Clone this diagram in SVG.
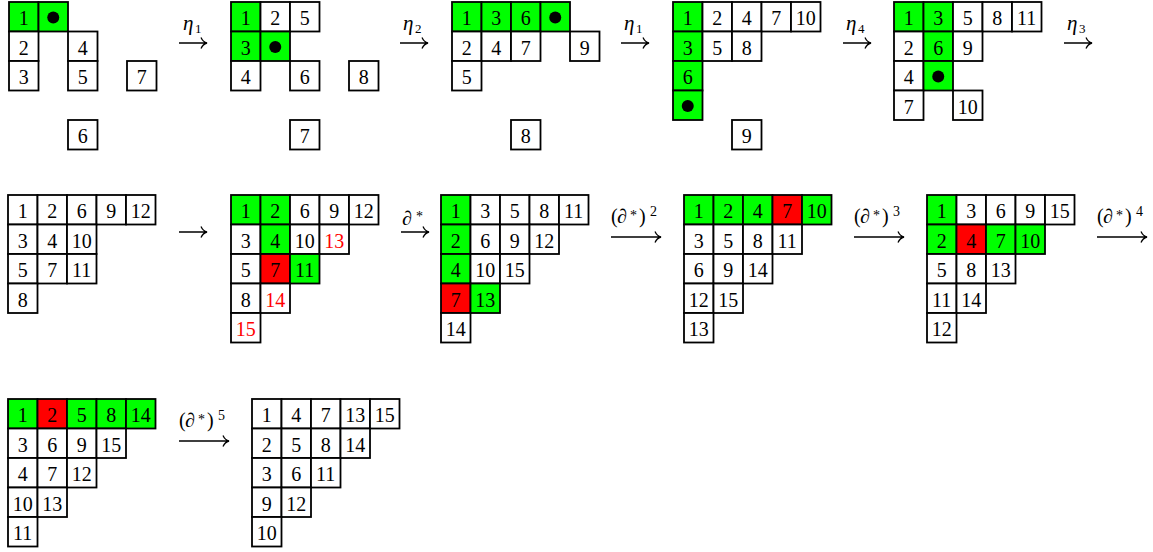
<svg xmlns="http://www.w3.org/2000/svg" width="1153" height="552" viewBox="0 0 1153 552">
<style>
rect{stroke:#000;stroke-width:1.8;width:29.5px;height:29.5px}
.c{fill:#fff}
.g{fill:#00ff00}
.r{fill:#ff0000}
text{font-family:"Liberation Serif",serif;font-size:20px;text-anchor:middle;fill:#000}
.rt{fill:#ff0000}
.lb{text-anchor:start;font-size:20px}
.eta{font-style:italic;font-size:21px}
.sub{font-size:13px}
.sup{font-size:14px}
.ar{stroke:#000;stroke-width:1.3;fill:none}
</style>
<rect x="0" y="0" width="1153" height="552" style="fill:#fff;stroke:none;width:1153px;height:552px"/>
<!-- T1 -->
<g id="t1" transform="translate(9,2)">
<rect class="g" x="0" y="0"/><text x="14.75" y="23">1</text>
<rect class="g" x="29.5" y="0"/><circle cx="44.25" cy="15.5" r="6"/>
<rect class="c" x="0" y="29.5"/><text x="14.75" y="52.5">2</text>
<rect class="c" x="59" y="29.5"/><text x="73.75" y="52.5">4</text>
<rect class="c" x="0" y="59"/><text x="14.75" y="82">3</text>
<rect class="c" x="59" y="59"/><text x="73.75" y="82">5</text>
<rect class="c" x="118" y="59"/><text x="132.75" y="82">7</text>
<rect class="c" x="59" y="118"/><text x="73.75" y="141">6</text>
</g>
<!-- T2 -->
<g id="t2" transform="translate(231,2)">
<rect class="g" x="0" y="0"/><text x="14.75" y="23">1</text>
<rect class="c" x="29.5" y="0"/><text x="44.25" y="23">2</text>
<rect class="c" x="59" y="0"/><text x="73.75" y="23">5</text>
<rect class="g" x="0" y="29.5"/><text x="14.75" y="52.5">3</text>
<rect class="g" x="29.5" y="29.5"/><circle cx="44.25" cy="45" r="6"/>
<rect class="c" x="0" y="59"/><text x="14.75" y="82">4</text>
<rect class="c" x="59" y="59"/><text x="73.75" y="82">6</text>
<rect class="c" x="118" y="59"/><text x="132.75" y="82">8</text>
<rect class="c" x="59" y="118"/><text x="73.75" y="141">7</text>
</g>
<!-- T3 -->
<g id="t3" transform="translate(452,2)">
<rect class="g" x="0" y="0"/><text x="14.75" y="23">1</text>
<rect class="g" x="29.5" y="0"/><text x="44.25" y="23">3</text>
<rect class="g" x="59" y="0"/><text x="73.75" y="23">6</text>
<rect class="g" x="88.5" y="0"/><circle cx="103.25" cy="15.5" r="6"/>
<rect class="c" x="0" y="29.5"/><text x="14.75" y="52.5">2</text>
<rect class="c" x="29.5" y="29.5"/><text x="44.25" y="52.5">4</text>
<rect class="c" x="59" y="29.5"/><text x="73.75" y="52.5">7</text>
<rect class="c" x="118" y="29.5"/><text x="132.75" y="52.5">9</text>
<rect class="c" x="0" y="59"/><text x="14.75" y="82">5</text>
<rect class="c" x="59" y="118"/><text x="73.75" y="141">8</text>
</g>
<!-- T4 -->
<g id="t4" transform="translate(673,2)">
<rect class="g" x="0" y="0"/><text x="14.75" y="23">1</text>
<rect class="c" x="29.5" y="0"/><text x="44.25" y="23">2</text>
<rect class="c" x="59" y="0"/><text x="73.75" y="23">4</text>
<rect class="c" x="88.5" y="0"/><text x="103.25" y="23">7</text>
<rect class="c" x="118" y="0"/><text x="132.75" y="23">10</text>
<rect class="g" x="0" y="29.5"/><text x="14.75" y="52.5">3</text>
<rect class="c" x="29.5" y="29.5"/><text x="44.25" y="52.5">5</text>
<rect class="c" x="59" y="29.5"/><text x="73.75" y="52.5">8</text>
<rect class="g" x="0" y="59"/><text x="14.75" y="82">6</text>
<rect class="g" x="0" y="88.5"/><circle cx="14.75" cy="104" r="6"/>
<rect class="c" x="59" y="118"/><text x="73.75" y="141">9</text>
</g>
<!-- T5 -->
<g id="t5" transform="translate(894,2)">
<rect class="g" x="0" y="0"/><text x="14.75" y="23">1</text>
<rect class="g" x="29.5" y="0"/><text x="44.25" y="23">3</text>
<rect class="c" x="59" y="0"/><text x="73.75" y="23">5</text>
<rect class="c" x="88.5" y="0"/><text x="103.25" y="23">8</text>
<rect class="c" x="118" y="0"/><text x="132.75" y="23">11</text>
<rect class="c" x="0" y="29.5"/><text x="14.75" y="52.5">2</text>
<rect class="g" x="29.5" y="29.5"/><text x="44.25" y="52.5">6</text>
<rect class="c" x="59" y="29.5"/><text x="73.75" y="52.5">9</text>
<rect class="c" x="0" y="59"/><text x="14.75" y="82">4</text>
<rect class="g" x="29.5" y="59"/><circle cx="44.25" cy="74.5" r="6"/>
<rect class="c" x="0" y="88.5"/><text x="14.75" y="111.5">7</text>
<rect class="c" x="59" y="88.5"/><text x="73.75" y="111.5">10</text>
</g>
<!-- T6 -->
<g id="t6" transform="translate(8,195)">
<rect class="c" x="0" y="0"/><text x="14.75" y="23">1</text>
<rect class="c" x="29.5" y="0"/><text x="44.25" y="23">2</text>
<rect class="c" x="59" y="0"/><text x="73.75" y="23">6</text>
<rect class="c" x="88.5" y="0"/><text x="103.25" y="23">9</text>
<rect class="c" x="118" y="0"/><text x="132.75" y="23">12</text>
<rect class="c" x="0" y="29.5"/><text x="14.75" y="52.5">3</text>
<rect class="c" x="29.5" y="29.5"/><text x="44.25" y="52.5">4</text>
<rect class="c" x="59" y="29.5"/><text x="73.75" y="52.5">10</text>
<rect class="c" x="0" y="59"/><text x="14.75" y="82">5</text>
<rect class="c" x="29.5" y="59"/><text x="44.25" y="82">7</text>
<rect class="c" x="59" y="59"/><text x="73.75" y="82">11</text>
<rect class="c" x="0" y="88.5"/><text x="14.75" y="111.5">8</text>
</g>
<!-- T7 -->
<g id="t7" transform="translate(231,195)">
<rect class="g" x="0" y="0"/><text x="14.75" y="23">1</text>
<rect class="g" x="29.5" y="0"/><text x="44.25" y="23">2</text>
<rect class="c" x="59" y="0"/><text x="73.75" y="23">6</text>
<rect class="c" x="88.5" y="0"/><text x="103.25" y="23">9</text>
<rect class="c" x="118" y="0"/><text x="132.75" y="23">12</text>
<rect class="c" x="0" y="29.5"/><text x="14.75" y="52.5">3</text>
<rect class="g" x="29.5" y="29.5"/><text x="44.25" y="52.5">4</text>
<rect class="c" x="59" y="29.5"/><text x="73.75" y="52.5">10</text>
<rect class="c" x="88.5" y="29.5"/><text class="rt" x="103.25" y="52.5">13</text>
<rect class="c" x="0" y="59"/><text x="14.75" y="82">5</text>
<rect class="r" x="29.5" y="59"/><text x="44.25" y="82">7</text>
<rect class="g" x="59" y="59"/><text x="73.75" y="82">11</text>
<rect class="c" x="0" y="88.5"/><text x="14.75" y="111.5">8</text>
<rect class="c" x="29.5" y="88.5"/><text class="rt" x="44.25" y="111.5">14</text>
<rect class="c" x="0" y="118"/><text class="rt" x="14.75" y="141">15</text>
</g>
<!-- T8 -->
<g id="t8" transform="translate(441,195)">
<rect class="g" x="0" y="0"/><text x="14.75" y="23">1</text>
<rect class="c" x="29.5" y="0"/><text x="44.25" y="23">3</text>
<rect class="c" x="59" y="0"/><text x="73.75" y="23">5</text>
<rect class="c" x="88.5" y="0"/><text x="103.25" y="23">8</text>
<rect class="c" x="118" y="0"/><text x="132.75" y="23">11</text>
<rect class="g" x="0" y="29.5"/><text x="14.75" y="52.5">2</text>
<rect class="c" x="29.5" y="29.5"/><text x="44.25" y="52.5">6</text>
<rect class="c" x="59" y="29.5"/><text x="73.75" y="52.5">9</text>
<rect class="c" x="88.5" y="29.5"/><text x="103.25" y="52.5">12</text>
<rect class="g" x="0" y="59"/><text x="14.75" y="82">4</text>
<rect class="c" x="29.5" y="59"/><text x="44.25" y="82">10</text>
<rect class="c" x="59" y="59"/><text x="73.75" y="82">15</text>
<rect class="r" x="0" y="88.5"/><text x="14.75" y="111.5">7</text>
<rect class="g" x="29.5" y="88.5"/><text x="44.25" y="111.5">13</text>
<rect class="c" x="0" y="118"/><text x="14.75" y="141">14</text>
</g>
<!-- T9 -->
<g id="t9" transform="translate(684,195)">
<rect class="g" x="0" y="0"/><text x="14.75" y="23">1</text>
<rect class="g" x="29.5" y="0"/><text x="44.25" y="23">2</text>
<rect class="g" x="59" y="0"/><text x="73.75" y="23">4</text>
<rect class="r" x="88.5" y="0"/><text x="103.25" y="23">7</text>
<rect class="g" x="118" y="0"/><text x="132.75" y="23">10</text>
<rect class="c" x="0" y="29.5"/><text x="14.75" y="52.5">3</text>
<rect class="c" x="29.5" y="29.5"/><text x="44.25" y="52.5">5</text>
<rect class="c" x="59" y="29.5"/><text x="73.75" y="52.5">8</text>
<rect class="c" x="88.5" y="29.5"/><text x="103.25" y="52.5">11</text>
<rect class="c" x="0" y="59"/><text x="14.75" y="82">6</text>
<rect class="c" x="29.5" y="59"/><text x="44.25" y="82">9</text>
<rect class="c" x="59" y="59"/><text x="73.75" y="82">14</text>
<rect class="c" x="0" y="88.5"/><text x="14.75" y="111.5">12</text>
<rect class="c" x="29.5" y="88.5"/><text x="44.25" y="111.5">15</text>
<rect class="c" x="0" y="118"/><text x="14.75" y="141">13</text>
</g>
<!-- T10 -->
<g id="t10" transform="translate(927,195)">
<rect class="g" x="0" y="0"/><text x="14.75" y="23">1</text>
<rect class="c" x="29.5" y="0"/><text x="44.25" y="23">3</text>
<rect class="c" x="59" y="0"/><text x="73.75" y="23">6</text>
<rect class="c" x="88.5" y="0"/><text x="103.25" y="23">9</text>
<rect class="c" x="118" y="0"/><text x="132.75" y="23">15</text>
<rect class="g" x="0" y="29.5"/><text x="14.75" y="52.5">2</text>
<rect class="r" x="29.5" y="29.5"/><text x="44.25" y="52.5">4</text>
<rect class="g" x="59" y="29.5"/><text x="73.75" y="52.5">7</text>
<rect class="g" x="88.5" y="29.5"/><text x="103.25" y="52.5">10</text>
<rect class="c" x="0" y="59"/><text x="14.75" y="82">5</text>
<rect class="c" x="29.5" y="59"/><text x="44.25" y="82">8</text>
<rect class="c" x="59" y="59"/><text x="73.75" y="82">13</text>
<rect class="c" x="0" y="88.5"/><text x="14.75" y="111.5">11</text>
<rect class="c" x="29.5" y="88.5"/><text x="44.25" y="111.5">14</text>
<rect class="c" x="0" y="118"/><text x="14.75" y="141">12</text>
</g>
<!-- T11 -->
<g id="t11" transform="translate(8,399)">
<rect class="g" x="0" y="0"/><text x="14.75" y="23">1</text>
<rect class="r" x="29.5" y="0"/><text x="44.25" y="23">2</text>
<rect class="g" x="59" y="0"/><text x="73.75" y="23">5</text>
<rect class="g" x="88.5" y="0"/><text x="103.25" y="23">8</text>
<rect class="g" x="118" y="0"/><text x="132.75" y="23">14</text>
<rect class="c" x="0" y="29.5"/><text x="14.75" y="52.5">3</text>
<rect class="c" x="29.5" y="29.5"/><text x="44.25" y="52.5">6</text>
<rect class="c" x="59" y="29.5"/><text x="73.75" y="52.5">9</text>
<rect class="c" x="88.5" y="29.5"/><text x="103.25" y="52.5">15</text>
<rect class="c" x="0" y="59"/><text x="14.75" y="82">4</text>
<rect class="c" x="29.5" y="59"/><text x="44.25" y="82">7</text>
<rect class="c" x="59" y="59"/><text x="73.75" y="82">12</text>
<rect class="c" x="0" y="88.5"/><text x="14.75" y="111.5">10</text>
<rect class="c" x="29.5" y="88.5"/><text x="44.25" y="111.5">13</text>
<rect class="c" x="0" y="118"/><text x="14.75" y="141">11</text>
</g>
<!-- T12 -->
<g id="t12" transform="translate(252,399)">
<rect class="c" x="0" y="0"/><text x="14.75" y="23">1</text>
<rect class="c" x="29.5" y="0"/><text x="44.25" y="23">4</text>
<rect class="c" x="59" y="0"/><text x="73.75" y="23">7</text>
<rect class="c" x="88.5" y="0"/><text x="103.25" y="23">13</text>
<rect class="c" x="118" y="0"/><text x="132.75" y="23">15</text>
<rect class="c" x="0" y="29.5"/><text x="14.75" y="52.5">2</text>
<rect class="c" x="29.5" y="29.5"/><text x="44.25" y="52.5">5</text>
<rect class="c" x="59" y="29.5"/><text x="73.75" y="52.5">8</text>
<rect class="c" x="88.5" y="29.5"/><text x="103.25" y="52.5">14</text>
<rect class="c" x="0" y="59"/><text x="14.75" y="82">3</text>
<rect class="c" x="29.5" y="59"/><text x="44.25" y="82">6</text>
<rect class="c" x="59" y="59"/><text x="73.75" y="82">11</text>
<rect class="c" x="0" y="88.5"/><text x="14.75" y="111.5">9</text>
<rect class="c" x="29.5" y="88.5"/><text x="44.25" y="111.5">12</text>
<rect class="c" x="0" y="118"/><text x="14.75" y="141">10</text>
</g>
<!-- connectors -->
<g id="connectors">
<g id="a1"><path class="ar" d="M179,43H207M201,37.5Q203,42 207,43Q203,44 201,48.5"/><text class="lb eta" x="183" y="30">η</text><text class="lb sub" x="195" y="33">1</text></g>
<g id="a2"><path class="ar" d="M400,43H428M422,37.5Q424,42 428,43Q424,44 422,48.5"/><text class="lb eta" x="403" y="30">η</text><text class="lb sub" x="415" y="33">2</text></g>
<g id="a3"><path class="ar" d="M621,43H649M643,37.5Q645,42 649,43Q645,44 643,48.5"/><text class="lb eta" x="624" y="30">η</text><text class="lb sub" x="636" y="33">1</text></g>
<g id="a4"><path class="ar" d="M843,43H871M865,37.5Q867,42 871,43Q867,44 865,48.5"/><text class="lb eta" x="846" y="30">η</text><text class="lb sub" x="858" y="33">4</text></g>
<g id="a5"><path class="ar" d="M1064,43H1092M1086,37.5Q1088,42 1092,43Q1088,44 1086,48.5"/><text class="lb eta" x="1067" y="30">η</text><text class="lb sub" x="1079" y="33">3</text></g>
<g id="a6"><path class="ar" d="M179,232H207M201,226.5Q203,231 207,232Q203,233 201,237.5"/></g>
<g id="a7"><path class="ar" d="M401,232H429M423,226.5Q425,231 429,232Q425,233 423,237.5"/><text class="lb" x="402" y="225">∂</text><text class="lb sup" x="416" y="221">*</text></g>
<g id="a8"><path class="ar" d="M611,237H661M655,231.5Q657,236 661,237Q657,238 655,242.5"/><text class="lb" y="223"><tspan x="611">(</tspan><tspan x="617">∂</tspan><tspan class="sup" x="630" y="220">*</tspan><tspan x="639" y="223">)</tspan><tspan class="sup" x="650" y="216">2</tspan></text></g>
<g id="a9"><path class="ar" d="M854,237H904M898,231.5Q900,236 904,237Q900,238 898,242.5"/><text class="lb" y="223"><tspan x="854">(</tspan><tspan x="860">∂</tspan><tspan class="sup" x="873" y="220">*</tspan><tspan x="882" y="223">)</tspan><tspan class="sup" x="893" y="216">3</tspan></text></g>
<g id="a10"><path class="ar" d="M1097,237H1147M1141,231.5Q1143,236 1147,237Q1143,238 1141,242.5"/><text class="lb" y="223"><tspan x="1097">(</tspan><tspan x="1103">∂</tspan><tspan class="sup" x="1116" y="220">*</tspan><tspan x="1125" y="223">)</tspan><tspan class="sup" x="1136" y="216">4</tspan></text></g>
<g id="a11"><path class="ar" d="M179,441H229M223,435.5Q225,440 229,441Q225,442 223,446.5"/><text class="lb" y="427"><tspan x="179">(</tspan><tspan x="185">∂</tspan><tspan class="sup" x="198" y="424">*</tspan><tspan x="207" y="427">)</tspan><tspan class="sup" x="218" y="420">5</tspan></text></g>
</g>
</svg>
